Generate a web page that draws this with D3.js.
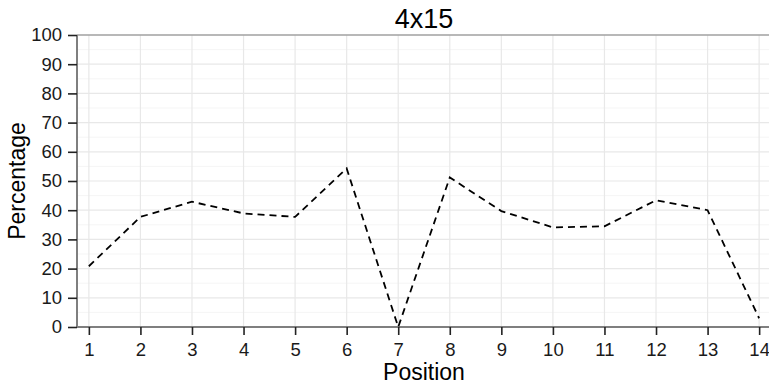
<!DOCTYPE html>
<html>
<head>
<meta charset="utf-8">
<script src="https://cdn.jsdelivr.net/npm/d3@7"></script>
<style>
  body { margin: 0; background: #fff; }
  svg { display: block; font-family: "Liberation Sans", Arial, sans-serif; }
</style>
</head>
<body>
<div id="chart"></div>
<script>
const title = "4x15";
const positions = [1, 2, 3, 4, 5, 6, 7, 8, 9, 10, 11, 12, 13, 14];
const percentage = [20.8, 37.7, 42.9, 38.9, 37.7, 54.3, 0, 51.2, 39.7, 34.1, 34.5, 43.4, 40.0, 3];
const yTicks = [0, 10, 20, 30, 40, 50, 60, 70, 80, 90, 100];
const yMinor = [5, 15, 25, 35, 45, 55, 65, 75, 85, 95];

const width = 769, height = 387;
const margin = { top: 35, right: -2, bottom: 60, left: 77 };
const w = width - margin.left - margin.right;
const h = height - margin.top - margin.bottom;

const svg = d3.select("#chart").append("svg")
  .attr("width", width)
  .attr("height", height);

const g = svg.append("g")
  .attr("transform", `translate(${margin.left},${margin.top})`);

const x = d3.scaleLinear().domain([0.77, 14.23]).range([0, w]);
const y = d3.scaleLinear().domain([0, 100]).range([h, 0]);

// grid
g.selectAll(".minor").data(yMinor).enter().append("line")
  .attr("x1", 0).attr("x2", w)
  .attr("y1", d => y(d)).attr("y2", d => y(d))
  .attr("stroke", "#f5f5f5").attr("stroke-width", 1);

g.selectAll(".hgrid").data(yTicks).enter().append("line")
  .attr("x1", 0).attr("x2", w)
  .attr("y1", d => y(d)).attr("y2", d => y(d))
  .attr("stroke", "#e8e8e8").attr("stroke-width", 1.2);

g.selectAll(".vgrid").data(positions).enter().append("line")
  .attr("x1", d => x(d)).attr("x2", d => x(d))
  .attr("y1", 0).attr("y2", h)
  .attr("stroke", "#e8e8e8").attr("stroke-width", 1.2);

// top border
g.append("line")
  .attr("x1", 0).attr("x2", w).attr("y1", 0).attr("y2", 0)
  .attr("stroke", "#7f7f7f").attr("stroke-width", 1.2);

// axes
const xAxis = g.append("g")
  .attr("transform", `translate(0,${h})`)
  .call(d3.axisBottom(x).tickValues(positions).tickFormat(d3.format("d")).tickSize(8).tickPadding(8));
const yAxis = g.append("g")
  .call(d3.axisLeft(y).tickValues(yTicks).tickSize(9).tickPadding(6));

[xAxis, yAxis].forEach(a => {
  a.select(".domain").attr("stroke", "#7f7f7f").attr("stroke-width", 2);
  a.selectAll(".tick line").attr("stroke", "#222").attr("stroke-width", 1.6);
  a.selectAll(".tick text").attr("fill", "#1a1a1a").style("font-size", "18.5px");
});
xAxis.select(".domain").attr("d", `M0,0H${w}`);
yAxis.select(".domain").attr("d", `M0,0V${h}`);

// line
const line = d3.line()
  .x((d, i) => x(positions[i]))
  .y(d => y(d));

g.append("path")
  .datum(percentage)
  .attr("d", line)
  .attr("fill", "none")
  .attr("stroke", "#000")
  .attr("stroke-width", 1.8)
  .attr("stroke-dasharray", "7,5");

// labels
svg.append("text")
  .attr("x", margin.left + w / 2).attr("y", 28)
  .attr("text-anchor", "middle")
  .style("font-size", "27px").attr("fill", "#000")
  .text(title);

svg.append("text")
  .attr("x", margin.left + w / 2).attr("y", 380)
  .attr("text-anchor", "middle")
  .style("font-size", "23px").attr("fill", "#000")
  .text("Position");

svg.append("text")
  .attr("transform", `translate(25,${margin.top + h / 2}) rotate(-90)`)
  .attr("text-anchor", "middle")
  .style("font-size", "23px").attr("fill", "#000")
  .text("Percentage");
</script>
</body>
</html>
